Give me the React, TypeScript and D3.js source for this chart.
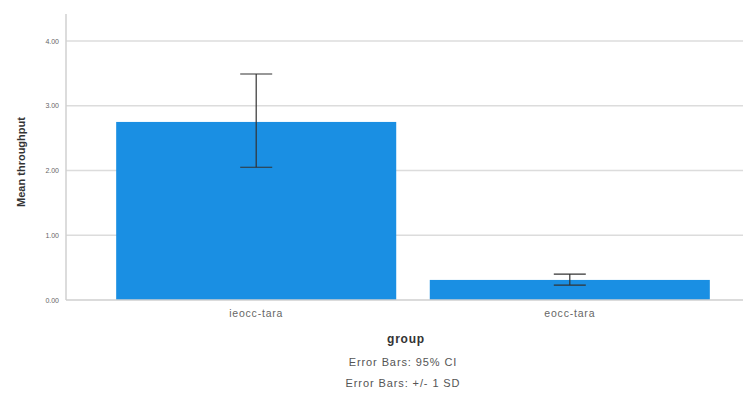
import React from "react";
import * as d3 from "d3";

const categories = ["ieocc-tara", "eocc-tara"];
const means = [2.75, 0.31];
const errLow = [2.05, 0.23];
const errHigh = [3.49, 0.4];
const yTicks = [0, 1, 2, 3, 4];
const footnotes = ["Error Bars: 95% CI", "Error Bars: +/- 1 SD"];

export default function App() {
  const W = 743, H = 403;
  const y = d3.scaleLinear().domain([0, 4]).range([300, 41]);
  const x = d3.scaleBand<string>().domain(categories).range([66, 760]).paddingInner(0.107).paddingOuter(0.16);
  const font = "Liberation Sans, Arial, sans-serif";
  return (
    <svg width={W} height={H} style={{ position: "absolute", left: 0, top: 0, background: "#fff" }}>
      {yTicks.map((t) => (
        <g key={t}>
          {t > 0 && <line x1={66} x2={743} y1={y(t)} y2={y(t)} stroke="#dcdcdc" strokeWidth={1.5} />}
          <text x={59} y={y(t) + 2.5} fontSize={7} fill="#666" textAnchor="end" fontFamily={font}>
            {d3.format(".2f")(t)}
          </text>
        </g>
      ))}
      <line x1={66} x2={66} y1={14} y2={300} stroke="#d0d0d0" strokeWidth={1.5} />
      {categories.map((c, i) => {
        const cx = x(c)! + x.bandwidth() / 2;
        return (
          <g key={c}>
            <rect x={x(c)} y={y(means[i])} width={x.bandwidth()} height={y(0) - y(means[i])} fill="#1a8fe3" />
            <line x1={cx} x2={cx} y1={y(errHigh[i])} y2={y(errLow[i])} stroke="#333" strokeWidth={1.2} />
            <line x1={cx - 16} x2={cx + 16} y1={y(errHigh[i])} y2={y(errHigh[i])} stroke="#333" strokeWidth={1.2} />
            <line x1={cx - 16} x2={cx + 16} y1={y(errLow[i])} y2={y(errLow[i])} stroke="#333" strokeWidth={1.2} />
            <text x={cx} y={317} fontSize={10.5} letterSpacing={0.8} fill="#666" textAnchor="middle" fontFamily={font}>{c}</text>
          </g>
        );
      })}
      <line x1={66} x2={743} y1={300} y2={300} stroke="#cfcfcf" strokeWidth={1.5} />
      <text x={406} y={343} fontSize={12} letterSpacing={0.8} fontWeight="bold" fill="#333" textAnchor="middle" fontFamily={font}>group</text>
      {footnotes.map((f, i) => (
        <text key={f} x={403} y={366 + i * 21} fontSize={11} letterSpacing={0.9} fill="#555" textAnchor="middle" fontFamily={font}>{f}</text>
      ))}
      <text transform="translate(25,162) rotate(-90)" fontSize={11} fontWeight="bold" fill="#333" textAnchor="middle" fontFamily={font}>
        Mean throughput
      </text>
    </svg>
  );
}
